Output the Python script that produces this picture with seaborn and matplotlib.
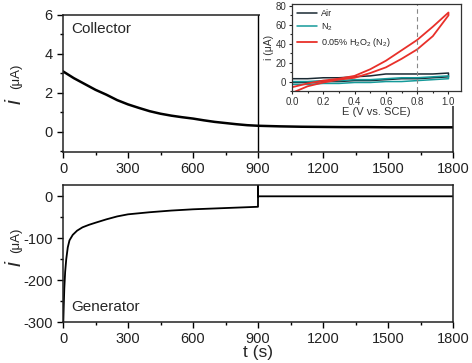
import matplotlib
matplotlib.use("Agg")
import matplotlib.pyplot as plt
import seaborn as sns
from matplotlib.patches import Rectangle
from matplotlib.ticker import MultipleLocator

# collector current (uA) vs time (s)
t_col = [0, 50, 100, 150, 200, 250, 300, 350, 400, 450, 500, 550, 600, 650, 700,
         750, 800, 850, 900, 1000, 1100, 1200, 1300, 1400, 1500, 1600, 1700, 1800]
i_col = [3.1, 2.75, 2.45, 2.15, 1.9, 1.62, 1.4, 1.22, 1.05, 0.92, 0.82, 0.74, 0.67, 0.58, 0.5,
         0.44, 0.38, 0.33, 0.3, 0.27, 0.25, 0.24, 0.23, 0.23, 0.22, 0.22, 0.22, 0.22]

# generator current (uA) vs time (s)
t_gen = [0, 3, 6, 10, 15, 22, 30, 45, 65, 90, 120, 150, 200, 250, 300, 400, 500, 600,
         700, 800, 900, 900, 900, 1800]
i_gen = [-330, -270, -220, -180, -150, -122, -105, -92, -82, -74, -68, -63, -55, -48, -43, -38, -34, -31,
         -29, -27, -25, 40, 0, 0]

# inset CVs (potential in V vs SCE, current in uA), forward then reverse sweep
E_cv = [0.0, 0.1, 0.2, 0.3, 0.4, 0.5, 0.6, 0.7, 0.8, 0.9, 1.0,
        1.0, 0.9, 0.8, 0.7, 0.6, 0.5, 0.4, 0.3, 0.2, 0.1, 0.0]
i_air = [-1, -1, 0, 0, 1, 1, 2, 3, 3, 4, 5,
         9, 8, 8, 8, 8, 6, 5, 4, 4, 3, 3]
i_n2 = [-3, -3, -2, -2, -1, -1, 0, 0, 1, 2, 3,
        6, 5, 4, 4, 3, 2, 2, 1, 1, 0, 0]
i_h2o2 = [-12, -5, -1, 2, 4, 9, 15, 24, 34, 48, 70,
          73, 58, 44, 33, 22, 13, 6, 3, 1, -2, -6]

sns.set_style("ticks")
plt.rcParams['font.family'] = ['Liberation Sans', 'DejaVu Sans']
plt.rcParams['axes.unicode_minus'] = False
plt.rcParams['mathtext.fontset'] = 'custom'
plt.rcParams['mathtext.rm'] = 'Liberation Sans'
plt.rcParams['mathtext.it'] = 'Liberation Sans:italic'

W, H = 472, 363
fig = plt.figure(figsize=(W / 100, H / 100), dpi=100)
ax1 = fig.add_axes([63 / W, 1 - 152 / H, 390 / W, 137 / H])
ax2 = fig.add_axes([63 / W, 1 - 322 / H, 390 / W, 137 / H])

sns.lineplot(x=t_col, y=i_col, ax=ax1, color='black', lw=1.8, sort=False, estimator=None)
ax1.axvline(900, color='black', lw=1)
sns.lineplot(x=t_gen, y=i_gen, ax=ax2, color='black', lw=1.3, sort=False, estimator=None)

for ax in (ax1, ax2):
    ax.set_xlim(0, 1800)
    ax.xaxis.set_major_locator(MultipleLocator(300))
    ax.xaxis.set_minor_locator(MultipleLocator(150))
    ax.tick_params(which='both', direction='out', color='black', width=1,
                   labelsize=10.5, labelcolor='#222222', top=False, right=False)
    ax.tick_params(which='major', length=4)
    ax.tick_params(which='minor', length=2.5)
    for s in ax.spines.values():
        s.set_color('#222222')
        s.set_linewidth(1.1)
    ax.set_ylabel('')
    ax.set_xlabel('')

ax1.set_ylim(-1.05, 6)
ax1.yaxis.set_major_locator(MultipleLocator(2))
ax1.yaxis.set_minor_locator(MultipleLocator(1))
ax2.set_ylim(-300, 27)
ax2.yaxis.set_major_locator(MultipleLocator(100))
ax2.yaxis.set_minor_locator(MultipleLocator(50))
ax2.set_xlabel('t (s)', fontsize=12.5, labelpad=-1)

ax1.text(0.02, 0.95, 'Collector', transform=ax1.transAxes, fontsize=11, va='top')
ax2.text(0.02, 0.06, 'Generator', transform=ax2.transAxes, fontsize=11, va='bottom')

for yc_i, yc_u in ((101, 76), (264, 240)):
    fig.text(15 / W, 1 - yc_i / H, 'i', rotation=90, fontsize=16, style='italic',
             ha='center', va='center')
    fig.text(16 / W, 1 - yc_u / H, '(μA)', rotation=90, fontsize=9.5,
             ha='center', va='center')

# white patch behind the inset
fig.add_artist(Rectangle((260 / W, 1 - 106 / H), 1, 1, transform=fig.transFigure,
                         facecolor='white', edgecolor='none', zorder=2))

ax3 = fig.add_axes([292 / W, 1 - 91 / H, 169 / W, 87 / H], zorder=3)
sns.lineplot(x=E_cv, y=i_air, ax=ax3, color='#1a2a33', lw=1.1, sort=False, estimator=None, label='Air')
sns.lineplot(x=E_cv, y=i_n2, ax=ax3, color='#159a9a', lw=1.1, sort=False, estimator=None, label='N$_2$')
sns.lineplot(x=E_cv, y=i_h2o2, ax=ax3, color='#e8302a', lw=1.3, sort=False, estimator=None,
             label='0.05% H$_2$O$_2$ (N$_2$)')
ax3.axvline(0.8, color='#888888', lw=0.8, ls=(0, (4, 3)))
ax3.set_xlim(0, 1.08)
ax3.set_ylim(-10, 82)
ax3.xaxis.set_major_locator(MultipleLocator(0.2))
ax3.yaxis.set_major_locator(MultipleLocator(20))
ax3.xaxis.set_minor_locator(MultipleLocator(0.1))
ax3.yaxis.set_minor_locator(MultipleLocator(10))
ax3.tick_params(which='both', direction='out', labelsize=7, labelcolor='#333333',
                length=2.5, width=0.8, pad=1.5)
ax3.tick_params(which='minor', length=1.5)
for s in ax3.spines.values():
    s.set_color('#333333')
    s.set_linewidth(0.9)
ax3.set_xlabel('E (V vs. SCE)', fontsize=8, labelpad=0.5, color='#333333')
ax3.set_ylabel('i (μA)', fontsize=7.5, labelpad=1, color='#333333')
ax3.legend(loc='upper left', frameon=False, fontsize=6.5, handlelength=2.2,
           borderaxespad=0.2, labelspacing=0.35, handletextpad=0.4)

fig.savefig('out.png', dpi=100)
